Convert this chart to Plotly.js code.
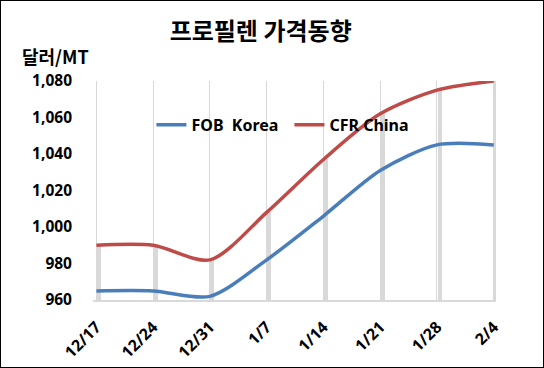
<!DOCTYPE html>
<html><head><meta charset="utf-8">
<script src="https://cdn.plot.ly/plotly-3.0.1.min.js"></script>
<style>html,body{margin:0;padding:0;background:#fff}#c{width:544px;height:368px;box-sizing:border-box;border:1.5px solid #000}</style>
</head><body><div id="c"></div>
<script>
const categories = ['12/17','12/24','12/31','1/7','1/14','1/21','1/28','2/4'];
const fobKorea = [965, 965, 962, 982, 1006, 1031, 1045, 1045];
const cfrChina = [990, 990, 982, 1008, 1037, 1062, 1075, 1080];
const yTicks = [960, 980, 1000, 1020, 1040, 1060, 1080];

const F = '"Noto Sans", "Noto Sans CJK KR", sans-serif';
const traces = [
  {type:'bar', x:categories, y:cfrChina, marker:{color:'#d9d9d9'}, width:0.07, offset:0.01, showlegend:false, hoverinfo:'skip'},
  {type:'scatter', mode:'lines', name:'FOB  Korea', x:categories, y:fobKorea, line:{color:'#4a7ebb', width:3.5, shape:'spline', smoothing:0.8}},
  {type:'scatter', mode:'lines', name:'CFR China', x:categories, y:cfrChina, line:{color:'#be4b48', width:3.5, shape:'spline', smoothing:0.8}}
];
const layout = {
  width:541, height:365,
  margin:{l:92, r:46, t:80, b:66},
  paper_bgcolor:'#fff', plot_bgcolor:'#fff',
  font:{family:F, color:'#000'},
  title:{text:'<b>프로필렌 가격동향</b>', x:0.48, xanchor:'center', y:0.915, yanchor:'middle', font:{size:24, family:'"Noto Sans CJK KR", sans-serif'}},
  showlegend:true,
  legend:{orientation:'h', x:0.145, y:0.80, xanchor:'left', yanchor:'middle', font:{size:16, family:F, weight:'bold'}, itemwidth:30, entrywidth:93, bgcolor:'rgba(0,0,0,0)'},
  xaxis:{type:'category', range:[-0.06, 7.04], showgrid:true, gridcolor:'#d9d9d9', gridwidth:1, showline:true, linecolor:'#d9d9d9', linewidth:1.5, ticks:'', tickangle:-45, ticklabelstandoff:10, tickfont:{size:16, weight:'bold'}},
  yaxis:{range:[960,1080], tickvals:yTicks, ticktext:yTicks.map(v=>v.toLocaleString('en-US')), showgrid:false, zeroline:false, showline:false, ticks:'', ticklabelstandoff:20, tickfont:{size:15.5, weight:'bold'}},
  annotations:[{text:'<b>달러/MT</b>', xref:'paper', yref:'paper', x:-0.18, y:1.115, xanchor:'left', yanchor:'middle', showarrow:false, font:{size:18, family:'"Noto Sans CJK KR", sans-serif'}}],
  bargap:0
};
Plotly.newPlot('c', traces, layout, {displayModeBar:false, staticPlot:true});
</script></body></html>
